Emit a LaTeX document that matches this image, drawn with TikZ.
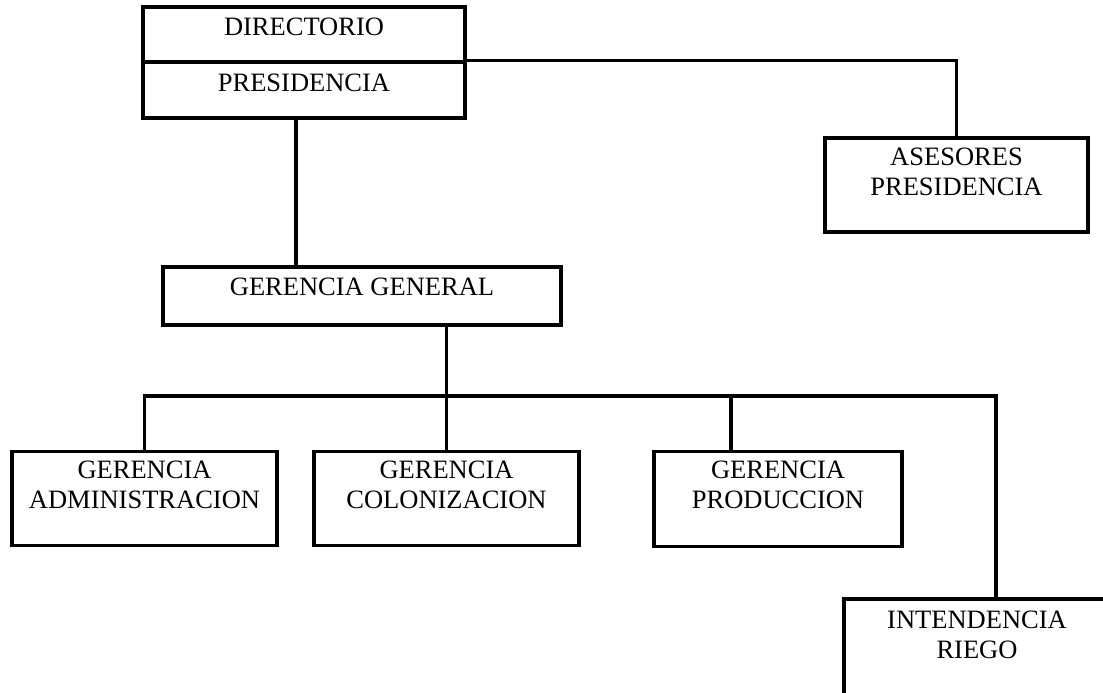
\documentclass[tikz,border=0pt]{standalone}
\usepackage{fontspec}
\setmainfont{Liberation Serif}
\begin{document}
\begin{tikzpicture}[x=1pt,y=-1pt,
  box/.style={draw, line width=3.2pt, rectangle, inner sep=0pt},
  lbl/.style={font=\fontsize{26.5}{30}\selectfont, align=center, inner sep=0pt, anchor=north},
  conn/.style={line width=3.2pt}]
\useasboundingbox (0,0) rectangle (1103,693);
\clip (0,0) rectangle (1103,693);
% boxes
\node[box, minimum width=322pt, minimum height=55pt,
  label={[lbl, label distance=-12pt]north:DIRECTORIO}] (dir) at (304,34.5) {};
\node[box, minimum width=322pt, minimum height=56pt,
  label={[lbl, label distance=-13pt]north:PRESIDENCIA}] (pres) at (304,90) {};
\node[box, minimum width=263pt, minimum height=94pt,
  label={[lbl, label distance=-11pt]north:{ASESORES\\PRESIDENCIA}}] (ases) at (956.5,185) {};
\node[box, minimum width=398pt, minimum height=58pt,
  label={[lbl, label distance=-12pt]north:GERENCIA GENERAL}] (gg) at (362,296) {};
\node[box, minimum width=265pt, minimum height=94pt,
  label={[lbl, label distance=-11pt]north:{GERENCIA\\ADMINISTRACION}}] (adm) at (144.5,498.5) {};
\node[box, minimum width=265pt, minimum height=94pt,
  label={[lbl, label distance=-11pt]north:{GERENCIA\\COLONIZACION}}] (col) at (446.5,498.5) {};
\node[box, minimum width=248pt, minimum height=95pt,
  label={[lbl, label distance=-11pt]north:{GERENCIA\\PRODUCCION}}] (prod) at (778,499) {};
\node[box, minimum width=266pt, minimum height=130pt,
  label={[lbl, label distance=-13pt]north:{INTENDENCIA\\RIEGO}}] (int) at (977,664) {};
% connector coordinates
\coordinate (busR) at (996,396);
\coordinate (pdrop) at (731,396);
% connectors
\draw[conn] (pres.north east) -| (ases.north);
\draw[conn] ([xshift=-8pt]pres.south) -- ([xshift=-8pt]pres.south |- gg.north);
\draw[conn] (col.north |- gg.south) -- (col.north);
\draw[conn] (adm.north) |- (busR) -- (busR |- int.north);
\draw[conn] (pdrop) -- (pdrop |- prod.north);
\end{tikzpicture}
\end{document}
